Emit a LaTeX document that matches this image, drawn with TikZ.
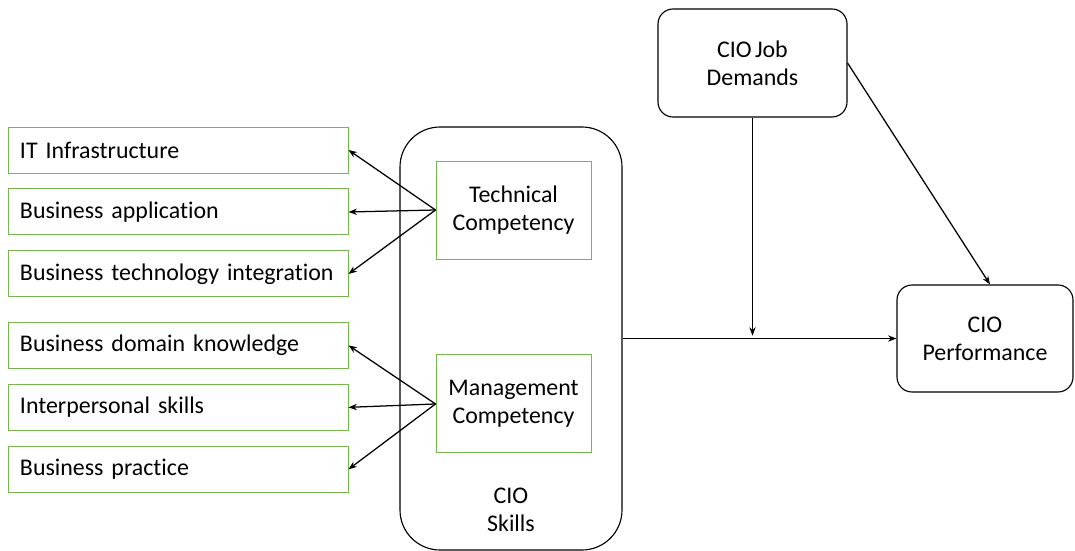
\documentclass[tikz,border=0pt]{standalone}
\usepackage{fontspec}
\setmainfont{Carlito}[WordSpace=0.6,Ligatures=NoCommon]
\usepackage{tikz}
\usetikzlibrary{positioning,arrows.meta}

\definecolor{boxgreen}{RGB}{120,180,80}

\tikzset{
  item/.style={draw=boxgreen,line width=0.7pt,text width=7.9cm,inner xsep=0.3cm,
    minimum height=1.15cm,align=left},
  comp/.style={draw=boxgreen,line width=0.7pt,minimum width=3.875cm,minimum height=2.45cm,
    align=center},
  block/.style={draw,line width=0.8pt,rounded corners=0.375cm,align=center},
  tip/.style={-{Stealth[length=6pt,width=4.5pt]}}
}

\begin{document}
\begin{tikzpicture}[font=\fontsize{17}{20}\selectfont,line width=0.9pt]
              \useasboundingbox (0,0) rectangle (26.875,-13.775);

              \node[draw,line width=0.8pt,rounded corners=1cm,minimum width=5.55cm,minimum height=10.575cm] (skills) at (12.775,-8.4625) {};
              \node[align=center] (skillstext) at (12.775,-12.74) {CIO\\Skills};
              \node[comp] (tech) at (12.8375,-5.25) {Technical\\Competency};
              \node[comp,below=2.375cm of tech] (mgmt) {Management\\Competency};

              \node[item] (it) at (4.45,-3.75) {IT Infrastructure};
              \node[item,below=0.375cm of it] (ba) {Business application};
              \node[item,below=0.375cm of ba] (bti) {Business technology integration};
              \node[item,below=0.61cm of bti] (bdk) {Business domain knowledge};
              \node[item,below=0.375cm of bdk] (is) {Interpersonal skills};
              \node[item,below=0.375cm of is] (bp) {Business practice};

              \node[block,minimum width=4.725cm,minimum height=2.7cm] (job) at (18.8125,-1.575) {CIO Job\\Demands};
              \node[block,minimum width=4.4cm,minimum height=2.675cm] (perf) at (24.625,-8.4625) {CIO\\Performance};

              %tech>items
              \draw[tip] (tech.west) -- (it.east);
              \draw[tip] (tech.west) -- (ba.east);
              \draw[tip] (tech.west) -- (bti.east);

              %mgmt>items
              \draw[tip] (mgmt.west) -- (bdk.east);
              \draw[tip] (mgmt.west) -- (is.east);
              \draw[tip] (mgmt.west) -- (bp.east);

              %skills>perf
              \draw[tip] (skills.east) -- (perf.west);

              %job>line
              \coordinate (meet) at (job.south |- skills.east);
              \draw[tip,shorten >= 2pt] (job.south) -- (meet);

              %job>perf
              \draw[tip] (job.east) -- ([xshift=0.125cm]perf.north);
            \end{tikzpicture}
\end{document}
